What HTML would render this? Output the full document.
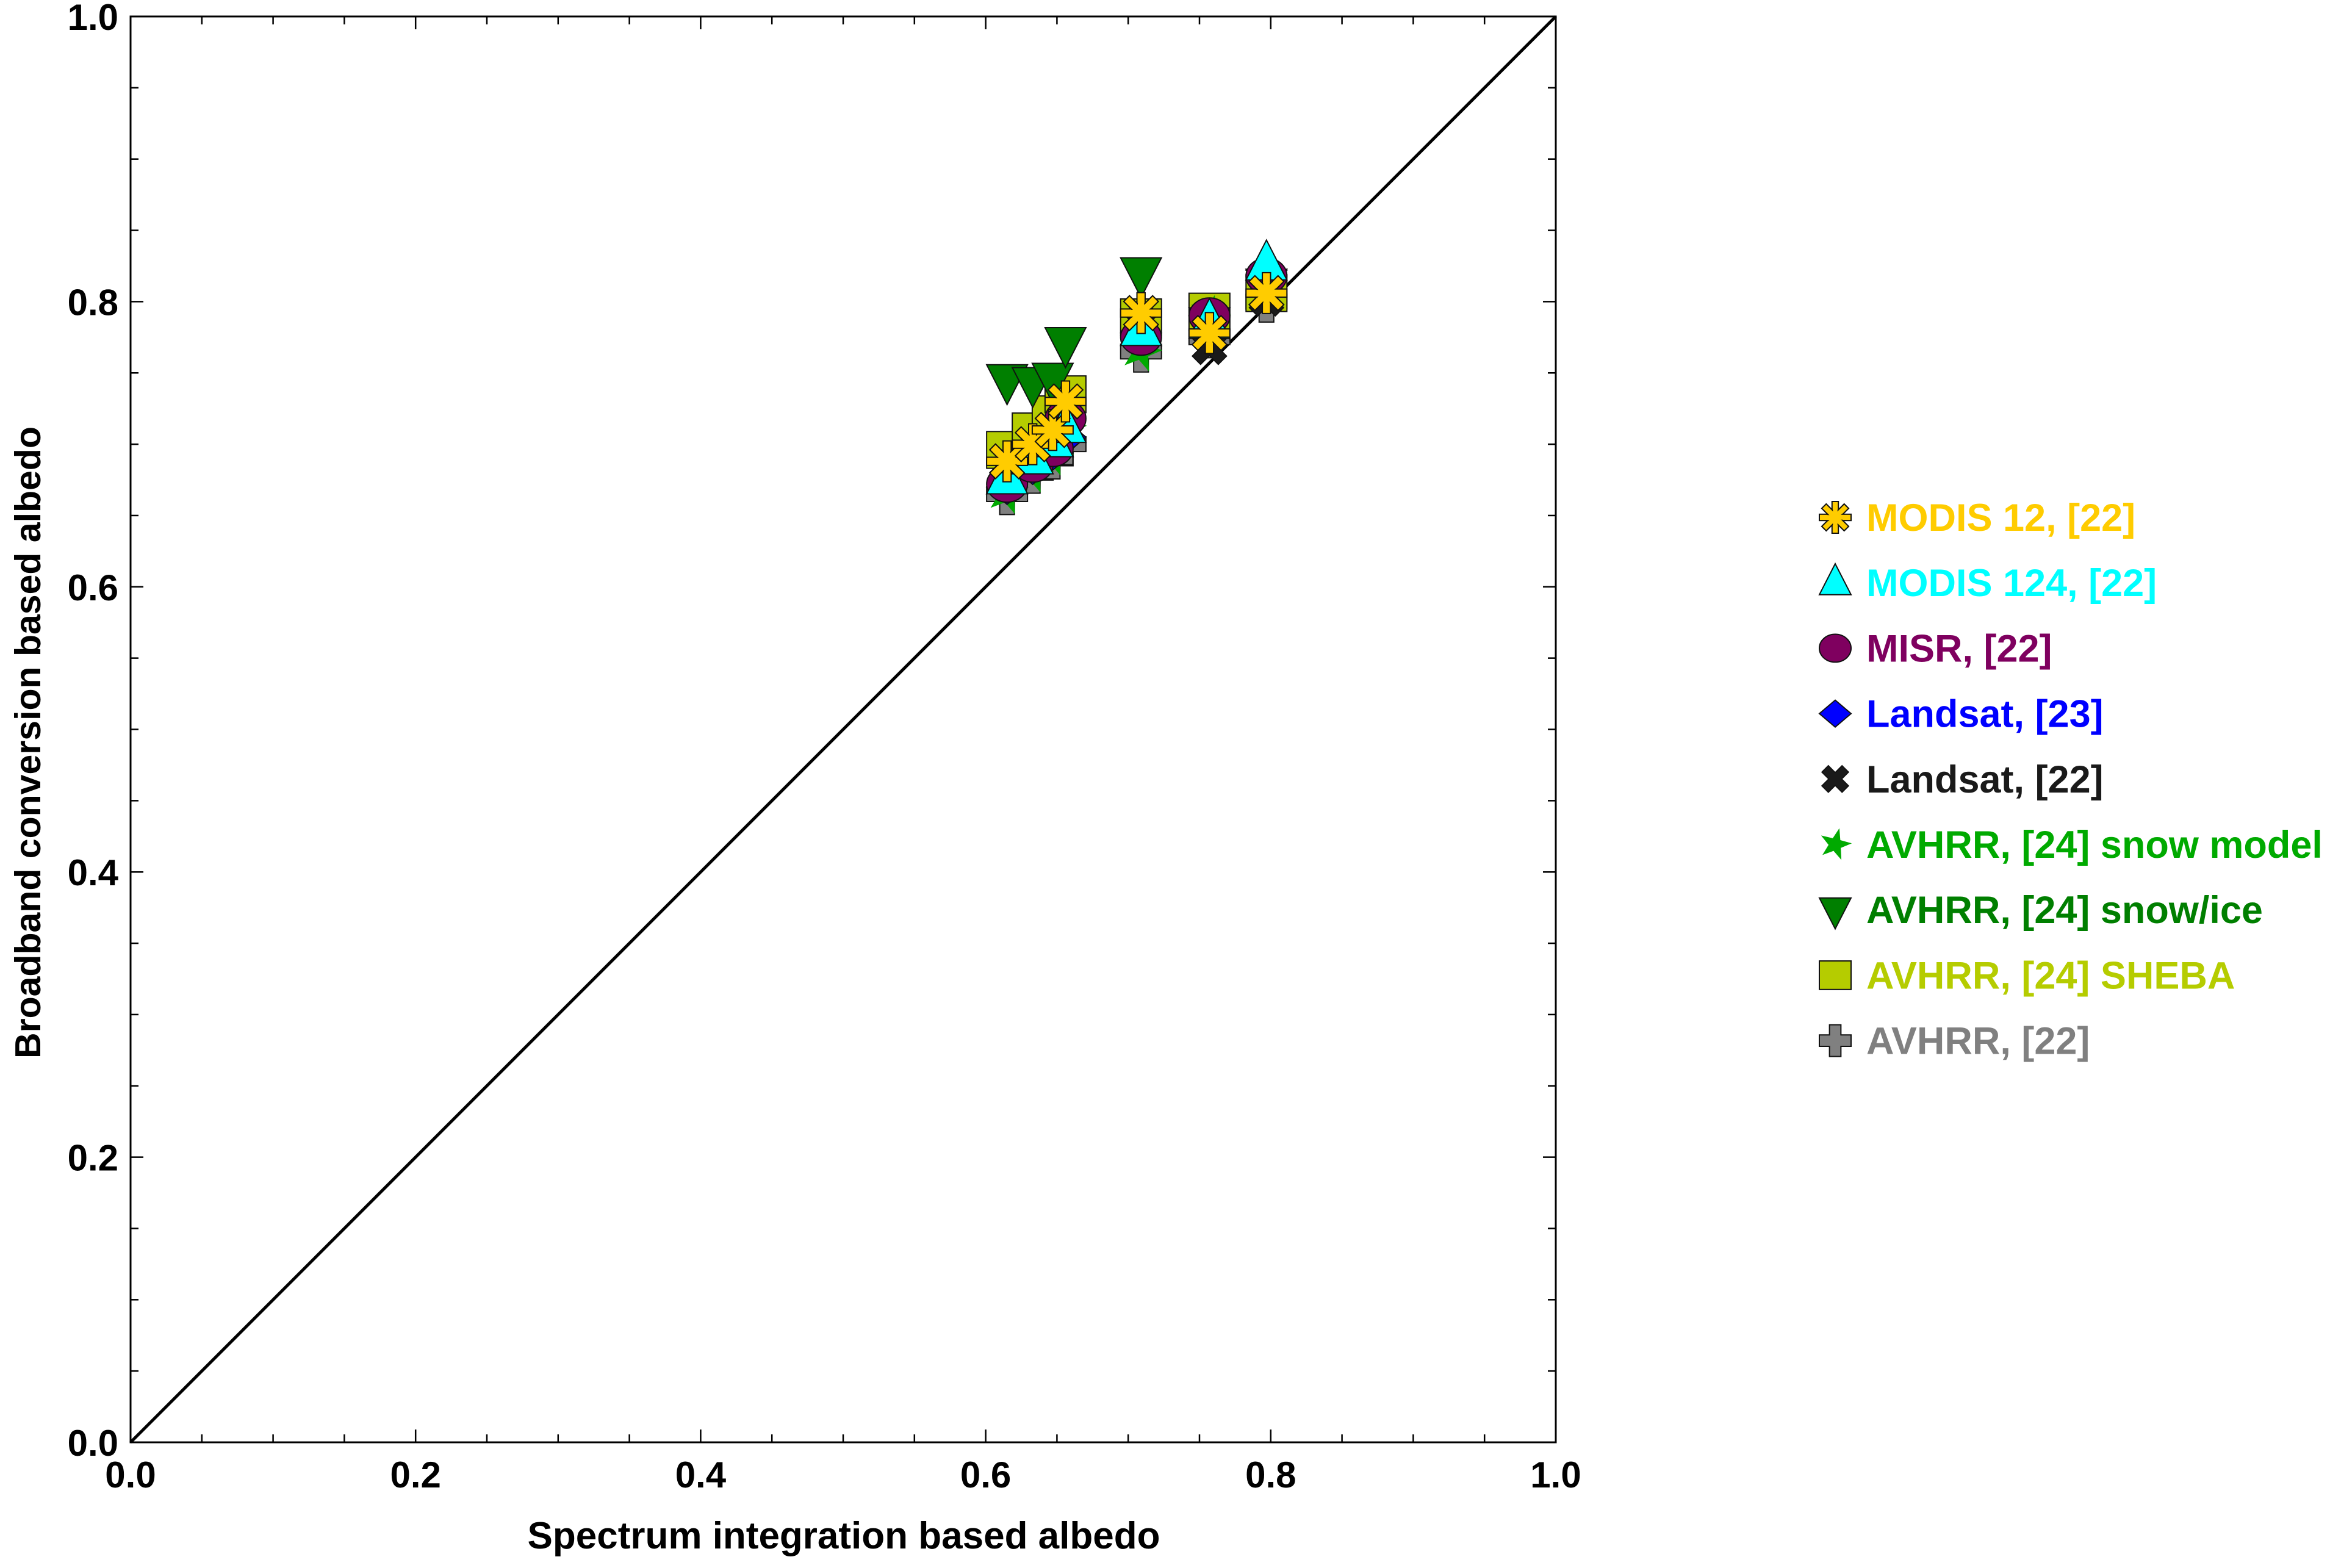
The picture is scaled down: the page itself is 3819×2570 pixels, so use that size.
<!DOCTYPE html>
<html><head><meta charset="utf-8"><style>
html,body{margin:0;padding:0;background:#fff;}
svg{display:block;font-family:"Liberation Sans",Arial,sans-serif;font-weight:bold;}
</style></head><body>
<svg id="chart" width="3819" height="2570" viewBox="0 0 3819 2570" xmlns="http://www.w3.org/2000/svg">
<g id="axes"></g>
<g id="marks"></g>
<g id="legend"></g>
</svg>
<script>
const xTicks = [0.0, 0.2, 0.4, 0.6, 0.8, 1.0];
const tickLabels = ["0.0", "0.2", "0.4", "0.6", "0.8", "1.0"];
const xVals = [0.615, 0.633, 0.647, 0.656, 0.709, 0.757, 0.797];
const yModis12 = [0.688, 0.700, 0.710, 0.730, 0.792, 0.778, 0.806];
const yModis124 = [0.676, 0.690, 0.702, 0.712, 0.780, 0.785, 0.826];
const yMisr = [0.672, 0.686, 0.697, 0.718, 0.775, 0.790, 0.818];
const yLandsat23 = [0.670, 0.684, 0.694, 0.705, 0.778, 0.790, 0.822];
const yLandsat22 = [0.674, 0.688, 0.700, 0.710, 0.785, 0.768, 0.802];
const ySnowModel = [0.665, 0.680, 0.692, 0.712, 0.765, 0.790, 0.815];
const ySnowIce = [0.745, 0.743, 0.746, 0.771, 0.820, 0.785, 0.812];
const ySheba = [0.696, 0.709, 0.721, 0.735, 0.789, 0.793, 0.806];
const yAvhrr22 = [0.665, 0.680, 0.690, 0.700, 0.765, 0.775, 0.800];
const seriesNames = ["MODIS 12, [22]","MODIS 124, [22]","MISR, [22]","Landsat, [23]","Landsat, [22]","AVHRR, [24] snow model","AVHRR, [24] snow/ice","AVHRR, [24] SHEBA","AVHRR, [22]"];

const NS="http://www.w3.org/2000/svg";
const L=214,R=2550,T=27,B=2364;
const sx=v=>L+v*(R-L);
const sy=v=>B-v*(B-T);
function mk(tag,attrs,parent){const e=document.createElementNS(NS,tag);for(const k in attrs)e.setAttribute(k,attrs[k]);parent.appendChild(e);return e;}
const axes=document.getElementById('axes'),marks=document.getElementById('marks'),legend=document.getElementById('legend');

const fr=mk('rect',{x:L,y:T,width:R-L,height:B-T,fill:'none',stroke:'#000','stroke-width':3},axes);


for(let i=0;i<=20;i++){
  const v=i*0.05, major=(i%4===0), len=major?21:13;
  const x=sx(v), y=sy(v);
  [[x,B,x,B-len],[x,T,x,T+len],[L,y,L+len,y],[R,y,R-len,y]].forEach(c=>{
    const t=mk('line',{x1:c[0],y1:c[1],x2:c[2],y2:c[3],stroke:'#000','stroke-width':2.5},axes);
    
    
  });
}
xTicks.forEach((v,i)=>{
  const tx=mk('text',{x:sx(v),y:B+74,'text-anchor':'middle','font-size':60},axes);
  tx.textContent=tickLabels[i];
  
  
  const ty=mk('text',{x:L-20,y:sy(v)+22,'text-anchor':'end','font-size':60},axes);
  ty.textContent=tickLabels[i];
  
  
});
const xt=mk('text',{x:1383,y:2538,'text-anchor':'middle','font-size':62},axes);
xt.textContent='Spectrum integration based albedo';


const yt=mk('text',{x:0,y:0,'text-anchor':'middle','font-size':59,transform:'translate(66,1217) rotate(-90)'},axes);
yt.textContent='Broadband conversion based albedo';


const diag=mk('line',{x1:sx(0),y1:sy(0),x2:sx(1),y2:sy(1),stroke:'#000','stroke-width':5},axes);



function drawMarker(type,cx,cy,s,fill,parent){
  const g=mk('g',{transform:`translate(${cx},${cy})`},parent);
  const h=s/2, st={stroke:'#111','stroke-width':2};
  if(type==='asterisk'){
    const w=s*0.2;
    [0,45,90,135].forEach(a=>mk('rect',Object.assign({x:-w/2,y:-h,width:w,height:s,fill:fill,transform:`rotate(${a})`},st),g));
    [0,45,90,135].forEach(a=>mk('rect',{x:-w/2+1.5,y:-h+1.5,width:w-3,height:s-3,fill:fill,transform:`rotate(${a})`},g));
  }else if(type==='tri'){
    mk('polygon',Object.assign({points:`0,${-h*1.2} ${h},${h*0.75} ${-h},${h*0.75}`,fill:fill},st),g);
  }else if(type==='itri'){
    mk('polygon',Object.assign({points:`0,${h*1.2} ${h},${-h*0.75} ${-h},${-h*0.75}`,fill:fill},st),g);
  }else if(type==='circle'){
    mk('ellipse',Object.assign({cx:0,cy:0,rx:h,ry:h*0.88,fill:fill},st),g);
  }else if(type==='diamond'){
    mk('polygon',Object.assign({points:`0,${-h*0.85} ${h},0 0,${h*0.85} ${-h},0`,fill:fill},st),g);
  }else if(type==='x'){
    const w=s*0.32;
    const p=`${-w/2},${-h} ${w/2},${-h} ${w/2},${-w/2} ${h},${-w/2} ${h},${w/2} ${w/2},${w/2} ${w/2},${h} ${-w/2},${h} ${-w/2},${w/2} ${-h},${w/2} ${-h},${-w/2} ${-w/2},${-w/2}`;
    mk('polygon',Object.assign({points:p,fill:fill,transform:'rotate(45) scale(0.9)'},st),g);
  }else if(type==='plus'){
    const w=s*0.36;
    const p=`${-w/2},${-h} ${w/2},${-h} ${w/2},${-w/2} ${h},${-w/2} ${h},${w/2} ${w/2},${w/2} ${w/2},${h} ${-w/2},${h} ${-w/2},${w/2} ${-h},${w/2} ${-h},${-w/2} ${-w/2},${-w/2}`;
    mk('polygon',Object.assign({points:p,fill:fill},st),g);
  }else if(type==='star'){
    let p=[];for(let i=0;i<10;i++){const r=i%2?h*0.42:h*1.05;const a=-Math.PI/2+i*Math.PI/5+0.25;p.push((r*Math.cos(a)).toFixed(1)+','+(r*Math.sin(a)).toFixed(1));}
    mk('polygon',{points:p.join(' '),fill:fill},g);
  }else if(type==='square'){
    mk('rect',Object.assign({x:-h,y:-h*0.9,width:s,height:s*0.9,fill:fill},st),g);
  }
  return g;
}

const series=[
 {ys:yModis12,type:'asterisk',color:'#ffcc00',name:'modis-12'},
 {ys:yModis124,type:'tri',color:'#00ffff',name:'modis-124'},
 {ys:yMisr,type:'circle',color:'#7f005f',name:'misr'},
 {ys:yLandsat23,type:'diamond',color:'#0000ff',name:'landsat-23'},
 {ys:yLandsat22,type:'x',color:'#1a1a1a',name:'landsat-22'},
 {ys:ySnowModel,type:'star',color:'#00aa00',name:'avhrr-snow-model'},
 {ys:ySnowIce,type:'itri',color:'#007f00',name:'avhrr-snow-ice'},
 {ys:ySheba,type:'square',color:'#b5cc00',name:'avhrr-sheba'},
 {ys:yAvhrr22,type:'plus',color:'#808080',name:'avhrr-22'}
];
const S=67;
for(let k=series.length-1;k>=0;k--){
  const s=series[k];
  const g=mk('g',{},marks);
  
  
  s.ys.forEach((v,i)=>{
    const m=drawMarker(s.type,sx(xVals[i]),sy(v),S,s.color,g);
    
    
  });
}
series.forEach((s,i)=>{
  const y=848+i*107.2;
  const g=mk('g',{},legend);
  
  
  drawMarker(s.type,3008,y,52,s.color,g);
  const t=mk('text',{x:3059,y:y+22,'font-size':63,fill:s.color},g);
  t.textContent=seriesNames[i];
  
  
});
</script>
</body></html>
